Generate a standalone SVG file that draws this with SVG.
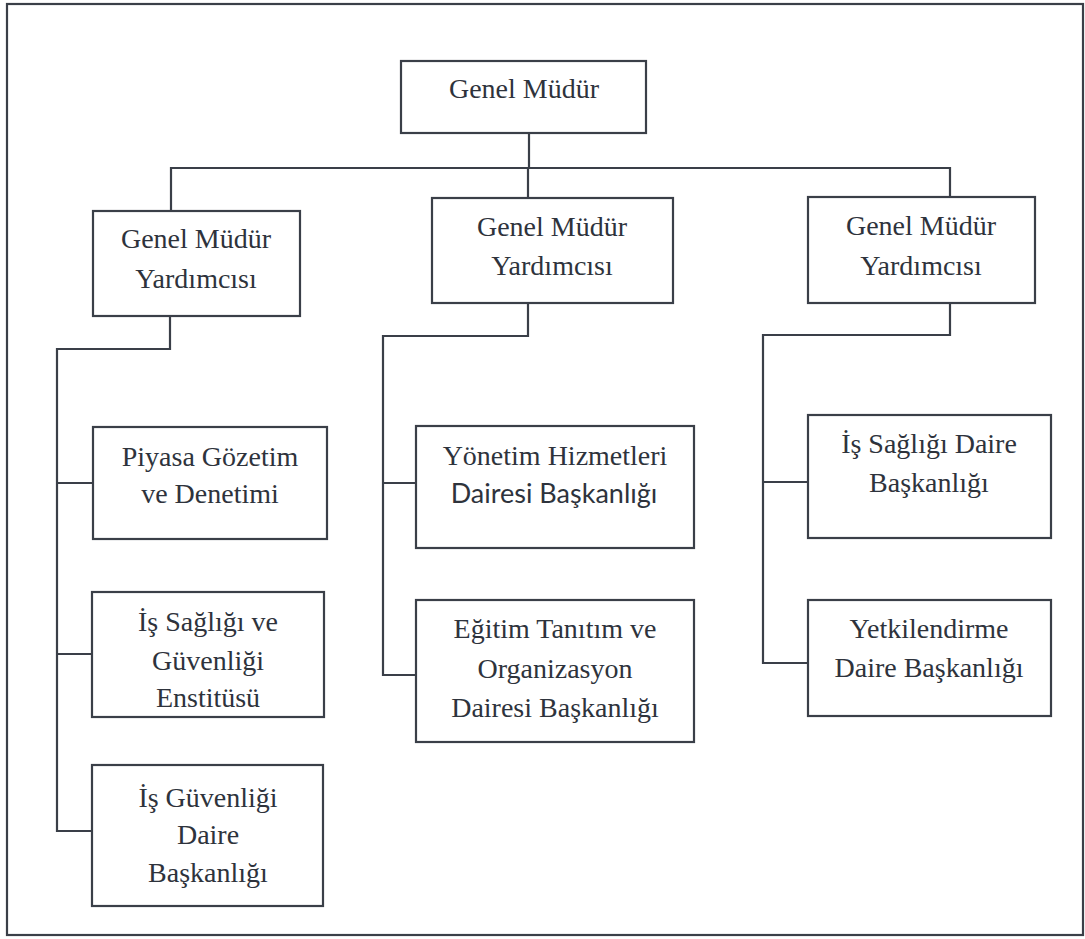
<svg xmlns="http://www.w3.org/2000/svg" width="1085" height="939" viewBox="0 0 1085 939">
<style>
.box{fill:#fff;stroke:#3a3f48;stroke-width:2.2}
.ln{fill:none;stroke:#3a3f48;stroke-width:2.2}
.t{font-family:'Liberation Serif',serif;font-size:28px;fill:#2e333c;text-anchor:middle}
.sans{font-family:Lato,sans-serif;font-size:27px}
</style>
<rect x="0" y="0" width="1085" height="939" fill="#fff"/>
<rect x="7" y="4" width="1076" height="931" class="ln"/>
<g id="connectors">
<path class="ln" d="M529 133V168M171 211V168H950V197M528 168V198"/>
<path class="ln" d="M170 316V349H57V831H92M57 483H93M57 654H92"/>
<path class="ln" d="M528 303V336H383V675H416M383 483H416"/>
<path class="ln" d="M950 303V335H763V663H808M763 482H808"/>
</g>
<g class="t" font-family="Liberation Serif, serif">
<g id="n-gm"><rect class="box" x="401" y="61" width="245" height="72"/><text x="524" y="98">Genel Müdür</text></g>
<g id="n-gmy1"><rect class="box" x="93" y="211" width="207" height="105"/><text x="196" y="248">Genel Müdür</text><text x="196" y="288">Yardımcısı</text></g>
<g id="n-gmy2"><rect class="box" x="432" y="198" width="241" height="105"/><text x="552" y="236">Genel Müdür</text><text x="552" y="275">Yardımcısı</text></g>
<g id="n-gmy3"><rect class="box" x="808" y="197" width="227" height="106"/><text x="921" y="235">Genel Müdür</text><text x="921" y="275">Yardımcısı</text></g>
<g id="n-piyasa"><rect class="box" x="93" y="427" width="234" height="112"/><text x="210" y="466">Piyasa Gözetim</text><text x="210" y="503">ve Denetimi</text></g>
<g id="n-isgu-enst"><rect class="box" x="92" y="592" width="232" height="125"/><text x="208" y="631">İş Sağlığı ve</text><text x="208" y="670">Güvenliği</text><text x="208" y="707">Enstitüsü</text></g>
<g id="n-isguv"><rect class="box" x="92" y="765" width="231" height="141"/><text x="208" y="807">İş Güvenliği</text><text x="208" y="844">Daire</text><text x="208" y="882">Başkanlığı</text></g>
<g id="n-yonetim"><rect class="box" x="416" y="426" width="278" height="122"/><text x="555" y="465">Yönetim Hizmetleri</text><text class="sans" x="554" y="503">Dairesi Başkanlığı</text></g>
<g id="n-egitim"><rect class="box" x="416" y="600" width="278" height="142"/><text x="555" y="638">Eğitim Tanıtım ve</text><text x="555" y="678">Organizasyon</text><text x="555" y="717">Dairesi Başkanlığı</text></g>
<g id="n-issagligi"><rect class="box" x="808" y="415" width="243" height="123"/><text x="929" y="453">İş Sağlığı Daire</text><text x="929" y="492">Başkanlığı</text></g>
<g id="n-yetki"><rect class="box" x="808" y="600" width="243" height="116"/><text x="929" y="638">Yetkilendirme</text><text x="929" y="677">Daire Başkanlığı</text></g>
</g>
</svg>
